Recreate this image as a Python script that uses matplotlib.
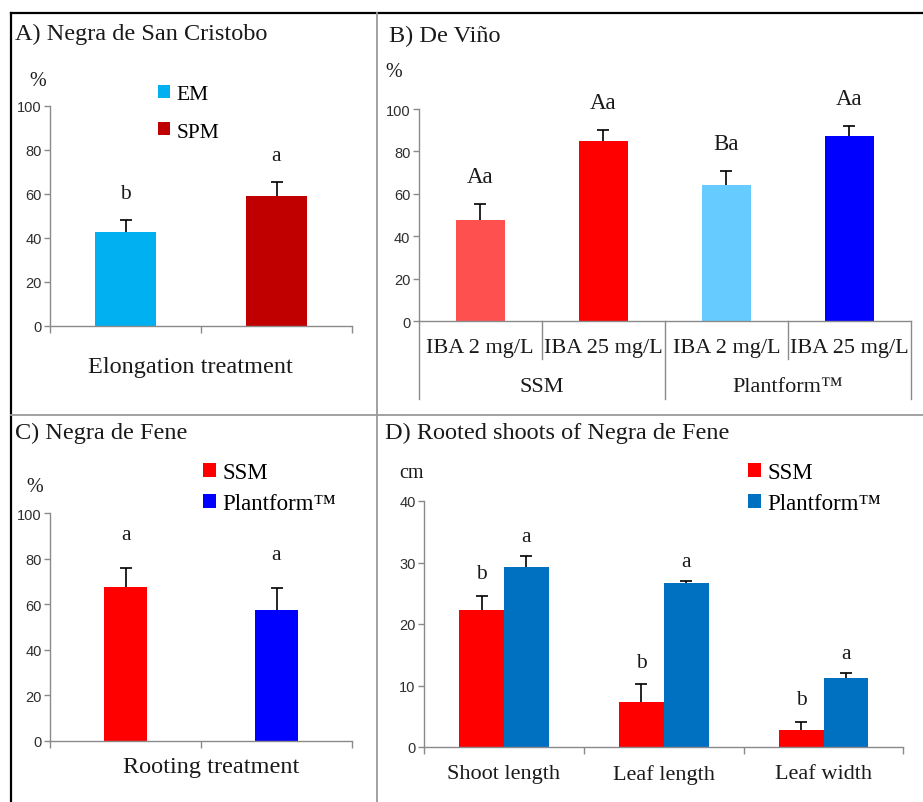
import matplotlib
matplotlib.use("Agg")
import matplotlib.pyplot as plt
import matplotlib.transforms as mtransforms
from matplotlib.patches import Patch
from matplotlib.lines import Line2D
import numpy as np

# ---------------- data ----------------
# A) Negra de San Cristobo - elongation
a_labels = ["EM", "SPM"]
a_values = [42.7, 59.1]
a_errors = [5.5, 6.4]
a_letters = ["b", "a"]

# B) De Viño - rooting with IBA
b_cats = ["IBA 2 mg/L", "IBA 25 mg/L", "IBA 2 mg/L", "IBA 25 mg/L"]
b_groups = ["SSM", "Plantform™"]
b_values = [47.6, 84.9, 64.2, 87.3]
b_errors = [7.6, 5.2, 6.6, 4.7]
b_letters = ["Aa", "Aa", "Ba", "Aa"]

# C) Negra de Fene - rooting
c_labels = ["SSM", "Plantform™"]
c_values = [67.5, 57.5]
c_errors = [8.4, 9.6]
c_letters = ["a", "a"]

# D) Rooted shoots of Negra de Fene
d_cats = ["Shoot length", "Leaf length", "Leaf width"]
d_series = ["SSM", "Plantform™"]
d_ssm = [22.3, 7.3, 2.8]
d_ssm_err = [2.3, 2.9, 1.3]
d_ssm_letters = ["b", "b", "b"]
d_pf = [29.3, 26.6, 11.2]
d_pf_err = [1.8, 0.4, 0.8]
d_pf_letters = ["a", "a", "a"]

# ---------------- style ----------------
W, H = 923, 803
SERIF = ["Liberation Serif"]
SANS = ["Liberation Sans"]
AXIS_GREY = "#8a8a8a"
TEXT = "#1a1a1a"
plt.rcParams["font.family"] = SERIF

fig = plt.figure(figsize=(W / 100, H / 100), dpi=100)
fig.patch.set_facecolor("white")


def px_rect(x0, y0, x1, y1):
    return [x0 / W, 1 - y1 / H, (x1 - x0) / W, (y1 - y0) / H]


def fig_text(x, y, s, **kw):
    kw.setdefault("va", "center")
    kw.setdefault("ha", "left")
    kw.setdefault("color", TEXT)
    fig.text(x / W, 1 - y / H, s, **kw)


def fig_line(x0, y0, x1, y1, **kw):
    fig.add_artist(Line2D([x0 / W, x1 / W], [1 - y0 / H, 1 - y1 / H],
                          transform=fig.transFigure, **kw))


def style_axes(ax, ymax, ystep, ncat):
    for s in ["top", "right"]:
        ax.spines[s].set_visible(False)
    for s in ["left", "bottom"]:
        ax.spines[s].set_color(AXIS_GREY)
        ax.spines[s].set_linewidth(1.0)
    ax.set_ylim(0, ymax)
    ax.set_yticks(np.arange(0, ymax + 1, ystep))
    ax.set_xlim(-0.5, ncat - 0.5)
    ax.tick_params(axis="y", direction="out", length=4, width=1,
                   color=AXIS_GREY, pad=2, labelsize=10.5, labelcolor="#2e2e2e")
    for lab in ax.get_yticklabels():
        lab.set_family(SANS)
    ax.set_xticks(np.arange(-0.5, ncat, 1.0), minor=True)
    ax.tick_params(axis="x", which="minor", direction="out", length=5,
                   width=1, color=AXIS_GREY)
    ax.tick_params(axis="x", which="major", length=0)
    ax.set_facecolor("none")


def up_errors(ax, x, vals, errs, capsize=4):
    _, caps, _ = ax.errorbar(x, vals, yerr=[np.zeros(len(errs)), errs],
                             fmt="none", ecolor="black", elinewidth=1.2,
                             capsize=capsize, capthick=1.2, zorder=3)
    # only the upper whisker carries a cap
    caps[0].set_visible(False)


def letters(ax, x, vals, errs, labs, off, size=15.5):
    for xi, v, e, t in zip(x, vals, errs, labs):
        ax.annotate(t, (xi, v + e), xytext=(0, off), textcoords="offset points",
                    ha="center", va="center", fontsize=size, color=TEXT)


def legend(ax, labels, colors, x, y, size, spacing):
    handles = [Patch(facecolor=c, edgecolor="none") for c in colors]
    ax.legend(handles, labels, loc="upper left",
              bbox_to_anchor=(x / W, 1 - y / H), bbox_transform=fig.transFigure,
              frameon=False, borderpad=0, borderaxespad=0,
              handlelength=0.55, handleheight=0.55, handletextpad=0.3,
              labelspacing=spacing, prop={"family": SERIF, "size": size})


# ---------------- panel A ----------------
axA = fig.add_axes(px_rect(50, 107, 352, 327))
style_axes(axA, 100, 20, 2)
xa = np.arange(len(a_values))
axA.bar(xa, a_values, width=0.4, color=["#00B0F0", "#C00000"], zorder=2)
up_errors(axA, xa, a_values, a_errors)
letters(axA, xa, a_values, a_errors, a_letters, 19)
axA.set_xticks(xa, [])
axA.set_xlabel("Elongation treatment", fontsize=17.5, color=TEXT, va="center")
axA.xaxis.set_label_coords(0.465, -0.182)
axA.text(-0.04, 1.114, "%", transform=axA.transAxes, ha="center",
         va="center", fontsize=14.5, color=TEXT)
legend(axA, a_labels, ["#00B0F0", "#C00000"], 158, 86, 15.5, 0.85)

# ---------------- panel B ----------------
axB = fig.add_axes(px_rect(418.7, 110, 910.8, 322))
style_axes(axB, 100, 20, 4)
xb = np.arange(len(b_values))
axB.bar(xb, b_values, width=0.4,
        color=["#FF5050", "#FF0000", "#66CCFF", "#0000FF"], zorder=2)
up_errors(axB, xb, b_values, b_errors)
letters(axB, xb, b_values, b_errors, b_letters, 20, size=16.5)
axB.tick_params(axis="x", which="minor", length=0)
axB.set_xticks(xb, [])
xform = axB.get_xaxis_transform()
row1 = mtransforms.offset_copy(xform, fig=fig, y=-26, units="dots")
row2 = mtransforms.offset_copy(xform, fig=fig, y=-66, units="dots")
for xi, lab in zip(xb, b_cats):
    axB.text(xi, 0, lab, transform=row1, ha="center", va="center",
             fontsize=16, color=TEXT)
for gi, lab in enumerate(b_groups):
    axB.text(2 * gi + 0.5, 0, lab, transform=row2, ha="center", va="center",
             fontsize=16, color=TEXT)
for bx in [-0.5, 0.5, 1.5, 2.5, 3.5]:
    depth = -0.368 if bx in (-0.5, 1.5, 3.5) else -0.179
    axB.plot([bx, bx], [0, depth], transform=xform, color=AXIS_GREY,
             lw=1.0, clip_on=False)
axB.text(-0.05, 1.179, "%", transform=axB.transAxes, ha="center",
         va="center", fontsize=14.5, color=TEXT)

# ---------------- panel C ----------------
axC = fig.add_axes(px_rect(50, 514, 352, 742))
style_axes(axC, 100, 20, 2)
xc = np.arange(len(c_values))
axC.bar(xc, c_values, width=0.29, color=["#FF0000", "#0000FF"], zorder=2)
up_errors(axC, xc, c_values, c_errors)
letters(axC, xc, c_values, c_errors, c_letters, 24)
axC.set_xticks(xc, [])
axC.set_xlabel("Rooting treatment", fontsize=17.5, color=TEXT, va="center")
axC.xaxis.set_label_coords(0.533, -0.114)
axC.text(-0.05, 1.118, "%", transform=axC.transAxes, ha="center",
         va="center", fontsize=14.5, color=TEXT)
legend(axC, c_labels, ["#FF0000", "#0000FF"], 203, 463, 16.5, 0.45)

# ---------------- panel D ----------------
axD = fig.add_axes(px_rect(424, 502, 903.5, 748))
style_axes(axD, 40, 10, 3)
xd = np.arange(len(d_cats))
bw = 0.28
axD.bar(xd - bw / 2, d_ssm, width=bw, color="#FF0000", zorder=2)
axD.bar(xd + bw / 2, d_pf, width=bw, color="#0070C0", zorder=2)
up_errors(axD, xd - bw / 2, d_ssm, d_ssm_err)
up_errors(axD, xd + bw / 2, d_pf, d_pf_err)
letters(axD, xd - bw / 2, d_ssm, d_ssm_err, d_ssm_letters, 16)
letters(axD, xd + bw / 2, d_pf, d_pf_err, d_pf_letters, 14)
axD.set_xticks(xd, d_cats)
axD.tick_params(axis="x", which="major", pad=12, labelsize=16,
                labelcolor=TEXT)
axD.text(-0.027, 1.114, "cm", transform=axD.transAxes, ha="center",
         va="center", fontsize=14.5, color=TEXT)
legend(axD, d_series, ["#FF0000", "#0070C0"], 748, 463, 16.5, 0.45)

# ---------------- titles ----------------
fig_text(15, 34, "A) Negra de San Cristobo", fontsize=17.5)
fig_text(389, 36, "B) De Viño", fontsize=17.5)
fig_text(15, 433, "C) Negra de Fene", fontsize=17.5)
fig_text(385, 433, "D) Rooted shoots of Negra de Fene", fontsize=17.5)

# ---------------- panel frame ----------------
fig_line(11, 14, 923, 14, color="black", lw=1.6)
fig_line(11, 14, 11, 803, color="black", lw=1.6)
fig_line(377, 14, 377, 803, color="#9a9a9a", lw=1.3)
fig_line(11, 416, 923, 416, color="#9a9a9a", lw=1.3)

fig.savefig("out.png", dpi=100, facecolor="white")
